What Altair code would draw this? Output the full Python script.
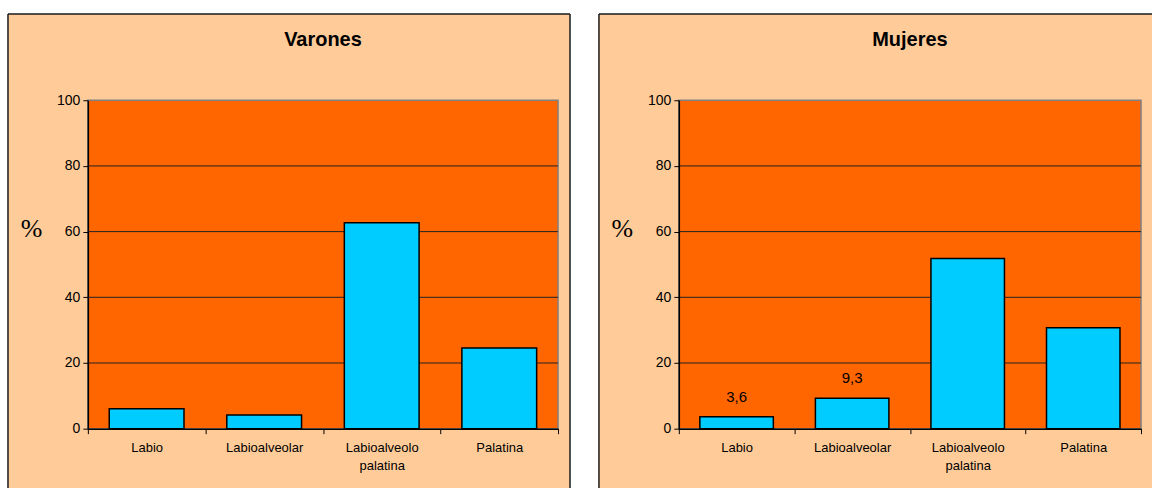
import altair as alt
import pandas as pd

categories = ["Labio", "Labioalveolar", "Labioalveolo palatina", "Palatina"]
varones = [6.1, 4.2, 62.7, 24.6]
mujeres = [3.6, 9.3, 51.8, 30.7]
mujeres_labels = ["3,6", "9,3", "", ""]
varones_labels = ["", "", "", ""]
y_ticks = [0, 20, 40, 60, 80, 100]
grid_values = [20, 40, 60, 80]

PEACH = "#FFCC99"
ORANGE = "#FF6600"
CYAN = "#00CCFF"
SANS = "Liberation Sans"
SERIF = "Liberation Serif"

H = 329
TOP = -86.5
BOTTOM = H + 60


def panel(title, values, labels, W, right_ext, draw_right_border):
    df = pd.DataFrame({"cat": categories, "v": values, "lab": labels})
    one = alt.Data(values=[{"k": 0}])

    x_axis = alt.Axis(
        title=None,
        tickBand="extent",
        labelAngle=0,
        labelExpr="split(datum.label, ' ')",
        labelFont=SANS,
        labelFontSize=13,
        labelColor="black",
        labelLineHeight=18,
        labelPadding=8,
        labelBaseline="top",
        tickSize=5,
        tickColor="black",
        domainColor="black",
        domainWidth=1.5,
        zindex=1,
    )
    yscale = alt.Scale(domain=[0, 100], nice=False)
    y_axis = alt.Axis(
        values=y_ticks,
        grid=False,
        title="%",
        titleAngle=0,
        titleFont=SERIF,
        titleFontSize=26,
        titleFontWeight="normal",
        titleColor="black",
        titleX=-57,
        titleY=128,
        titleAlign="center",
        titleBaseline="middle",
        labelFont=SANS,
        labelFontSize=14,
        labelColor="black",
        labelPadding=3,
        tickSize=5,
        tickColor="black",
        domainColor="black",
        domainWidth=1.5,
        zindex=1,
    )
    x_enc = alt.X("cat:N", sort=categories,
                  scale=alt.Scale(paddingInner=0, paddingOuter=0), axis=x_axis)

    bg = alt.Chart(one).mark_rect(fill=PEACH, strokeWidth=0).encode(
        x=alt.value(-80), x2=alt.value(W + right_ext),
        y=alt.value(TOP), y2=alt.value(BOTTOM),
    )
    left_b = alt.Chart(one).mark_rule(color="#1a1a1a", strokeWidth=1.5).encode(
        x=alt.value(-80), y=alt.value(TOP), y2=alt.value(BOTTOM)
    )
    top_b = alt.Chart(one).mark_rule(color="#1a1a1a", strokeWidth=1.5).encode(
        x=alt.value(-80), x2=alt.value(W + right_ext), y=alt.value(TOP)
    )
    layers = [bg, left_b, top_b]
    if draw_right_border:
        right_b = alt.Chart(one).mark_rule(color="#1a1a1a", strokeWidth=1.5).encode(
            x=alt.value(W + right_ext), y=alt.value(TOP), y2=alt.value(BOTTOM)
        )
        layers.append(right_b)

    plot_bg = alt.Chart(one).mark_rect(fill=ORANGE, stroke="#808080", strokeWidth=1.5).encode(
        x=alt.value(0), x2=alt.value(W), y=alt.value(0), y2=alt.value(H)
    )
    grid = alt.Chart(pd.DataFrame({"g": grid_values})).mark_rule(
        color="#222222", strokeWidth=1
    ).encode(y=alt.Y("g:Q", scale=yscale, axis=y_axis))

    bars = alt.Chart(df).mark_bar(
        fill=CYAN, stroke="black", strokeWidth=1.5,
        width=alt.RelativeBandSize(0.636),
    ).encode(x=x_enc, y=alt.Y("v:Q", scale=yscale, axis=y_axis))

    txt = alt.Chart(df).mark_text(
        font=SANS, fontSize=15, color="black", dy=-15, baseline="alphabetic"
    ).encode(x=x_enc, y=alt.Y("v:Q", scale=yscale, axis=y_axis), text="lab:N")

    ttl = alt.Chart(one).mark_text(
        font=SANS, fontSize=20, fontWeight="bold", color="black", baseline="alphabetic"
    ).encode(x=alt.value(W / 2), y=alt.value(-54), text=alt.value(title))

    layers += [plot_bg, grid, bars, txt, ttl]
    return alt.layer(*layers).properties(width=W, height=H)


left = panel("Varones", varones, varones_labels, 471, 12, True)
right = panel("Mujeres", mujeres, mujeres_labels, 463, 11, False)

chart = (
    alt.hconcat(left, right, spacing=27)
    .properties(padding={"left": 7, "top": 12, "right": 0, "bottom": 0}, background="white")
    .configure_view(stroke=None)
)

chart.save("out.html", embed_options={"renderer": "svg", "actions": False})
